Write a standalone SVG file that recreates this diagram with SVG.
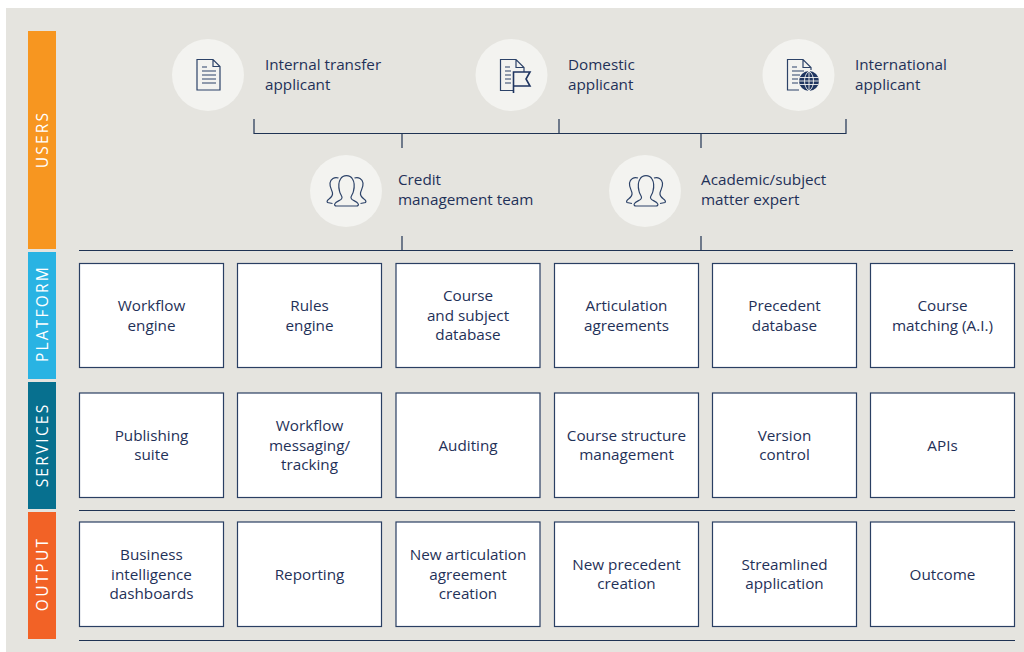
<svg xmlns="http://www.w3.org/2000/svg" xmlns:xlink="http://www.w3.org/1999/xlink" width="1024" height="652" viewBox="0 0 1024 652">
<style>
text{font-family:"Open Sans","Noto Sans","Liberation Sans",sans-serif;font-size:15.25px;fill:#1f3158}
.c{text-anchor:middle}
.bar{fill:#fff;font-size:15.5px;letter-spacing:2.2px;text-anchor:middle}
.box{fill:#fff;stroke:#2a3f63;stroke-width:1.2}
.circ{fill:#f3f3f0}
.ln{fill:none;stroke:#1f3353;stroke-width:1.2}
.ic{fill:none;stroke:#2c4268;stroke-width:1.2}
.ict{fill:none;stroke:#1f3560;stroke-width:1.6}
</style>
<defs>
<g id="people" class="ic">
<path d="M-10,15H10C11.500,15 12.500,14 11.500,12.500C10,10 5,9.500 4.500,7C4,5 6.500,3.500 7,0C8,-4 8.500,-8 6,-12C3.500,-16.500 -3.500,-16.500 -6,-12C-8.500,-8 -8,-4 -7,0C-6.500,3.500 -4,5 -4.500,7C-5,9.500 -10,10 -11.500,12.500C-12.500,14 -11.500,15 -10,15Z"/>
<path d="M8,-13C12,-14.500 16,-12 16.500,-8C17,-4 14.500,-1 14,2C13.500,5 15.500,6.500 17.500,8C19,9 20,10.500 19,11.500L14,12.500"/>
<path d="M-8,-13C-12,-14.500 -16,-12 -16.500,-8C-17,-4 -14.500,-1 -14,2C-13.500,5 -15.500,6.500 -17.500,8C-19,9 -20,10.500 -19,11.500L-14,12.500"/>
</g>
</defs>
<rect x="6" y="8" width="1018" height="644" fill="#e5e4df"/>

<g id="bars">
<g id="bar-users"><rect x="28" y="31" width="28" height="218" fill="#f79620"/><text class="bar" transform="translate(48,139.500) rotate(-90)">USERS</text></g>
<g id="bar-platform"><rect x="28" y="252" width="28" height="127" fill="#29b3e3"/><text class="bar" transform="translate(48,313.500) rotate(-90)">PLATFORM</text></g>
<g id="bar-services"><rect x="28" y="382" width="28" height="127" fill="#07708f"/><text class="bar" transform="translate(48,445) rotate(-90)">SERVICES</text></g>
<g id="bar-output"><rect x="28" y="512" width="28" height="127" fill="#f26226"/><text class="bar" transform="translate(48,574) rotate(-90)">OUTPUT</text></g>
</g>

<g id="connectors" class="ln">
<path d="M254,119V133.500H846V119"/>
<path d="M559,119V133.500"/>
<path d="M402,133.500V148"/>
<path d="M701,133.500V148"/>
<path d="M402,236V250"/>
<path d="M701,236V250"/>
<path d="M79,250.500H1013"/>
<path d="M79,510.500H1015"/>
<path d="M79,640.500H1015"/>
</g>

<g id="user-internal">
<circle class="circ" cx="208" cy="75" r="36"/>
<path class="ic" d="M197,59.500H213L220,66.500V90H197Z M213,59.500V66.500H220"/>
<path class="ic" d="M202,67H207M202,71H216M202,75H216M202,79H216M202,83H216"/>
<text x="265" y="70">Internal transfer</text><text x="265" y="90">applicant</text>
</g>
<g id="user-domestic">
<circle class="circ" cx="511.500" cy="75" r="36"/>
<path class="ic" d="M513,90.500H500.500V59.500H516L524,67.500V72 M516,59.500V67.500H524"/>
<path class="ic" d="M505,67H510M505,71H511M505,75H511M505,79H511M505,83H511"/>
<path class="ict" d="M513.500,93V72H530L526,79L530,86H513.500"/>
<text x="568" y="70">Domestic</text><text x="568" y="90">applicant</text>
</g>
<g id="user-international">
<circle class="circ" cx="798.500" cy="75" r="36"/>
<path class="ic" d="M799,90H787.500V59.500H803L811,67.500V70 M803,59.500V67.500H811"/>
<path class="ic" d="M792,67H797M792,71H804M792,75H800M792,79H798M792,83H798"/>
<circle cx="809" cy="81" r="10" fill="#1f3560"/>
<path fill="none" stroke="#f3f3f0" stroke-width=".9" d="M799.500,77.500H818.500M799.500,84.500H818.500M799,81H819M809,71V91M809,71C803,75 803,87 809,91M809,71C815,75 815,87 809,91"/>
<text x="855" y="70">International</text><text x="855" y="90">applicant</text>
</g>
<g id="user-credit">
<circle class="circ" cx="346" cy="191" r="36"/>
<use href="#people" xlink:href="#people" x="346.500" y="191"/>
<text x="398" y="185">Credit</text><text x="398" y="205">management team</text>
</g>
<g id="user-academic">
<circle class="circ" cx="645" cy="191" r="36"/>
<use href="#people" xlink:href="#people" x="646" y="191"/>
<text x="701" y="185">Academic/subject</text><text x="701" y="205">matter expert</text>
</g>

<g id="platform-1"><rect class="box" x="79.500" y="263.500" width="144" height="104"/><text class="c" x="151.500" y="311">Workflow</text><text class="c" x="151.500" y="331">engine</text></g>
<g id="platform-2"><rect class="box" x="237.500" y="263.500" width="144" height="104"/><text class="c" x="309.500" y="311">Rules</text><text class="c" x="309.500" y="331">engine</text></g>
<g id="platform-3"><rect class="box" x="396" y="263.500" width="144" height="104"/><text class="c" x="468" y="301">Course</text><text class="c" x="468" y="321">and subject</text><text class="c" x="468" y="340">database</text></g>
<g id="platform-4"><rect class="box" x="554.500" y="263.500" width="144" height="104"/><text class="c" x="626.500" y="311">Articulation</text><text class="c" x="626.500" y="331">agreements</text></g>
<g id="platform-5"><rect class="box" x="712.500" y="263.500" width="144" height="104"/><text class="c" x="784.500" y="311">Precedent</text><text class="c" x="784.500" y="331">database</text></g>
<g id="platform-6"><rect class="box" x="870.500" y="263.500" width="144" height="104"/><text class="c" x="942.500" y="311">Course</text><text class="c" x="942.500" y="331">matching (A.I.)</text></g>

<g id="services-1"><rect class="box" x="79.500" y="393" width="144" height="104.500"/><text class="c" x="151.500" y="441">Publishing</text><text class="c" x="151.500" y="460">suite</text></g>
<g id="services-2"><rect class="box" x="237.500" y="393" width="144" height="104.500"/><text class="c" x="309.500" y="431">Workflow</text><text class="c" x="309.500" y="451">messaging/</text><text class="c" x="309.500" y="470">tracking</text></g>
<g id="services-3"><rect class="box" x="396" y="393" width="144" height="104.500"/><text class="c" x="468" y="451">Auditing</text></g>
<g id="services-4"><rect class="box" x="554.500" y="393" width="144" height="104.500"/><text class="c" x="626.500" y="441">Course structure</text><text class="c" x="626.500" y="460">management</text></g>
<g id="services-5"><rect class="box" x="712.500" y="393" width="144" height="104.500"/><text class="c" x="784.500" y="441">Version</text><text class="c" x="784.500" y="460">control</text></g>
<g id="services-6"><rect class="box" x="870.500" y="393" width="144" height="104.500"/><text class="c" x="942.500" y="451">APIs</text></g>

<g id="output-1"><rect class="box" x="79.500" y="522" width="144" height="104.500"/><text class="c" x="151.500" y="560">Business</text><text class="c" x="151.500" y="580">intelligence</text><text class="c" x="151.500" y="599">dashboards</text></g>
<g id="output-2"><rect class="box" x="237.500" y="522" width="144" height="104.500"/><text class="c" x="309.500" y="580">Reporting</text></g>
<g id="output-3"><rect class="box" x="396" y="522" width="144" height="104.500"/><text class="c" x="468" y="560">New articulation</text><text class="c" x="468" y="580">agreement</text><text class="c" x="468" y="599">creation</text></g>
<g id="output-4"><rect class="box" x="554.500" y="522" width="144" height="104.500"/><text class="c" x="626.500" y="570">New precedent</text><text class="c" x="626.500" y="589">creation</text></g>
<g id="output-5"><rect class="box" x="712.500" y="522" width="144" height="104.500"/><text class="c" x="784.500" y="570">Streamlined</text><text class="c" x="784.500" y="589">application</text></g>
<g id="output-6"><rect class="box" x="870.500" y="522" width="144" height="104.500"/><text class="c" x="942.500" y="580">Outcome</text></g>
</svg>
